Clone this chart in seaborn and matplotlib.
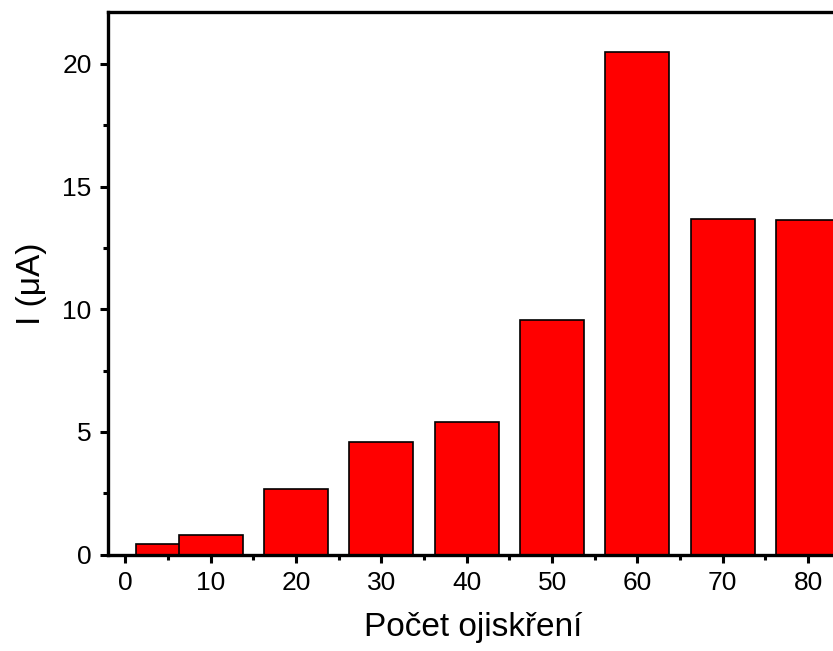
import numpy as np
import pandas as pd
import matplotlib
matplotlib.use("Agg")
import matplotlib.pyplot as plt
import seaborn as sns
from matplotlib.ticker import MultipleLocator

# Data
sparks = [5, 10, 20, 30, 40, 50, 60, 70, 80]
current = [0.44, 0.82, 2.69, 4.58, 5.39, 9.58, 20.48, 13.66, 13.65]
x_ticks = [0, 10, 20, 30, 40, 50, 60, 70, 80]

df = pd.DataFrame({"sparks": sparks, "current": current})

sns.set_style("ticks")
plt.rcParams["font.family"] = ["Liberation Sans", "DejaVu Sans"]
plt.rcParams["text.color"] = "black"
plt.rcParams["axes.labelcolor"] = "black"

fig = plt.figure(figsize=(8.33, 6.51), dpi=100)
ax = fig.add_axes([0.130, 0.148, 0.876, 0.833])

sns.barplot(data=df, x="sparks", y="current", native_scale=True, width=1.5,
            color="#ff0000", saturation=1, edgecolor="black", linewidth=1.2,
            ax=ax)

ax.set_xlim(-2, 83.5)
ax.set_ylim(0, 22.1)
ax.yaxis.set_major_locator(MultipleLocator(5))
ax.yaxis.set_minor_locator(MultipleLocator(2.5))
ax.set_xticks(x_ticks)
ax.set_xticklabels([str(t) for t in x_ticks])
ax.xaxis.set_minor_locator(MultipleLocator(5))

for side in ["left", "bottom", "top", "right"]:
    ax.spines[side].set_visible(True)
    ax.spines[side].set_linewidth(2.4)
    ax.spines[side].set_color("black")

ax.tick_params(which="major", direction="out", length=6, width=2.2,
               labelsize=19, pad=6, colors="black")
ax.tick_params(which="minor", direction="out", length=3.5, width=2.2,
               colors="black")

ax.set_xlabel("Počet ojiskření", fontsize=24, labelpad=12)
ax.set_ylabel("I (μA)", fontsize=24, labelpad=11)

fig.savefig("out.png", dpi=100)
